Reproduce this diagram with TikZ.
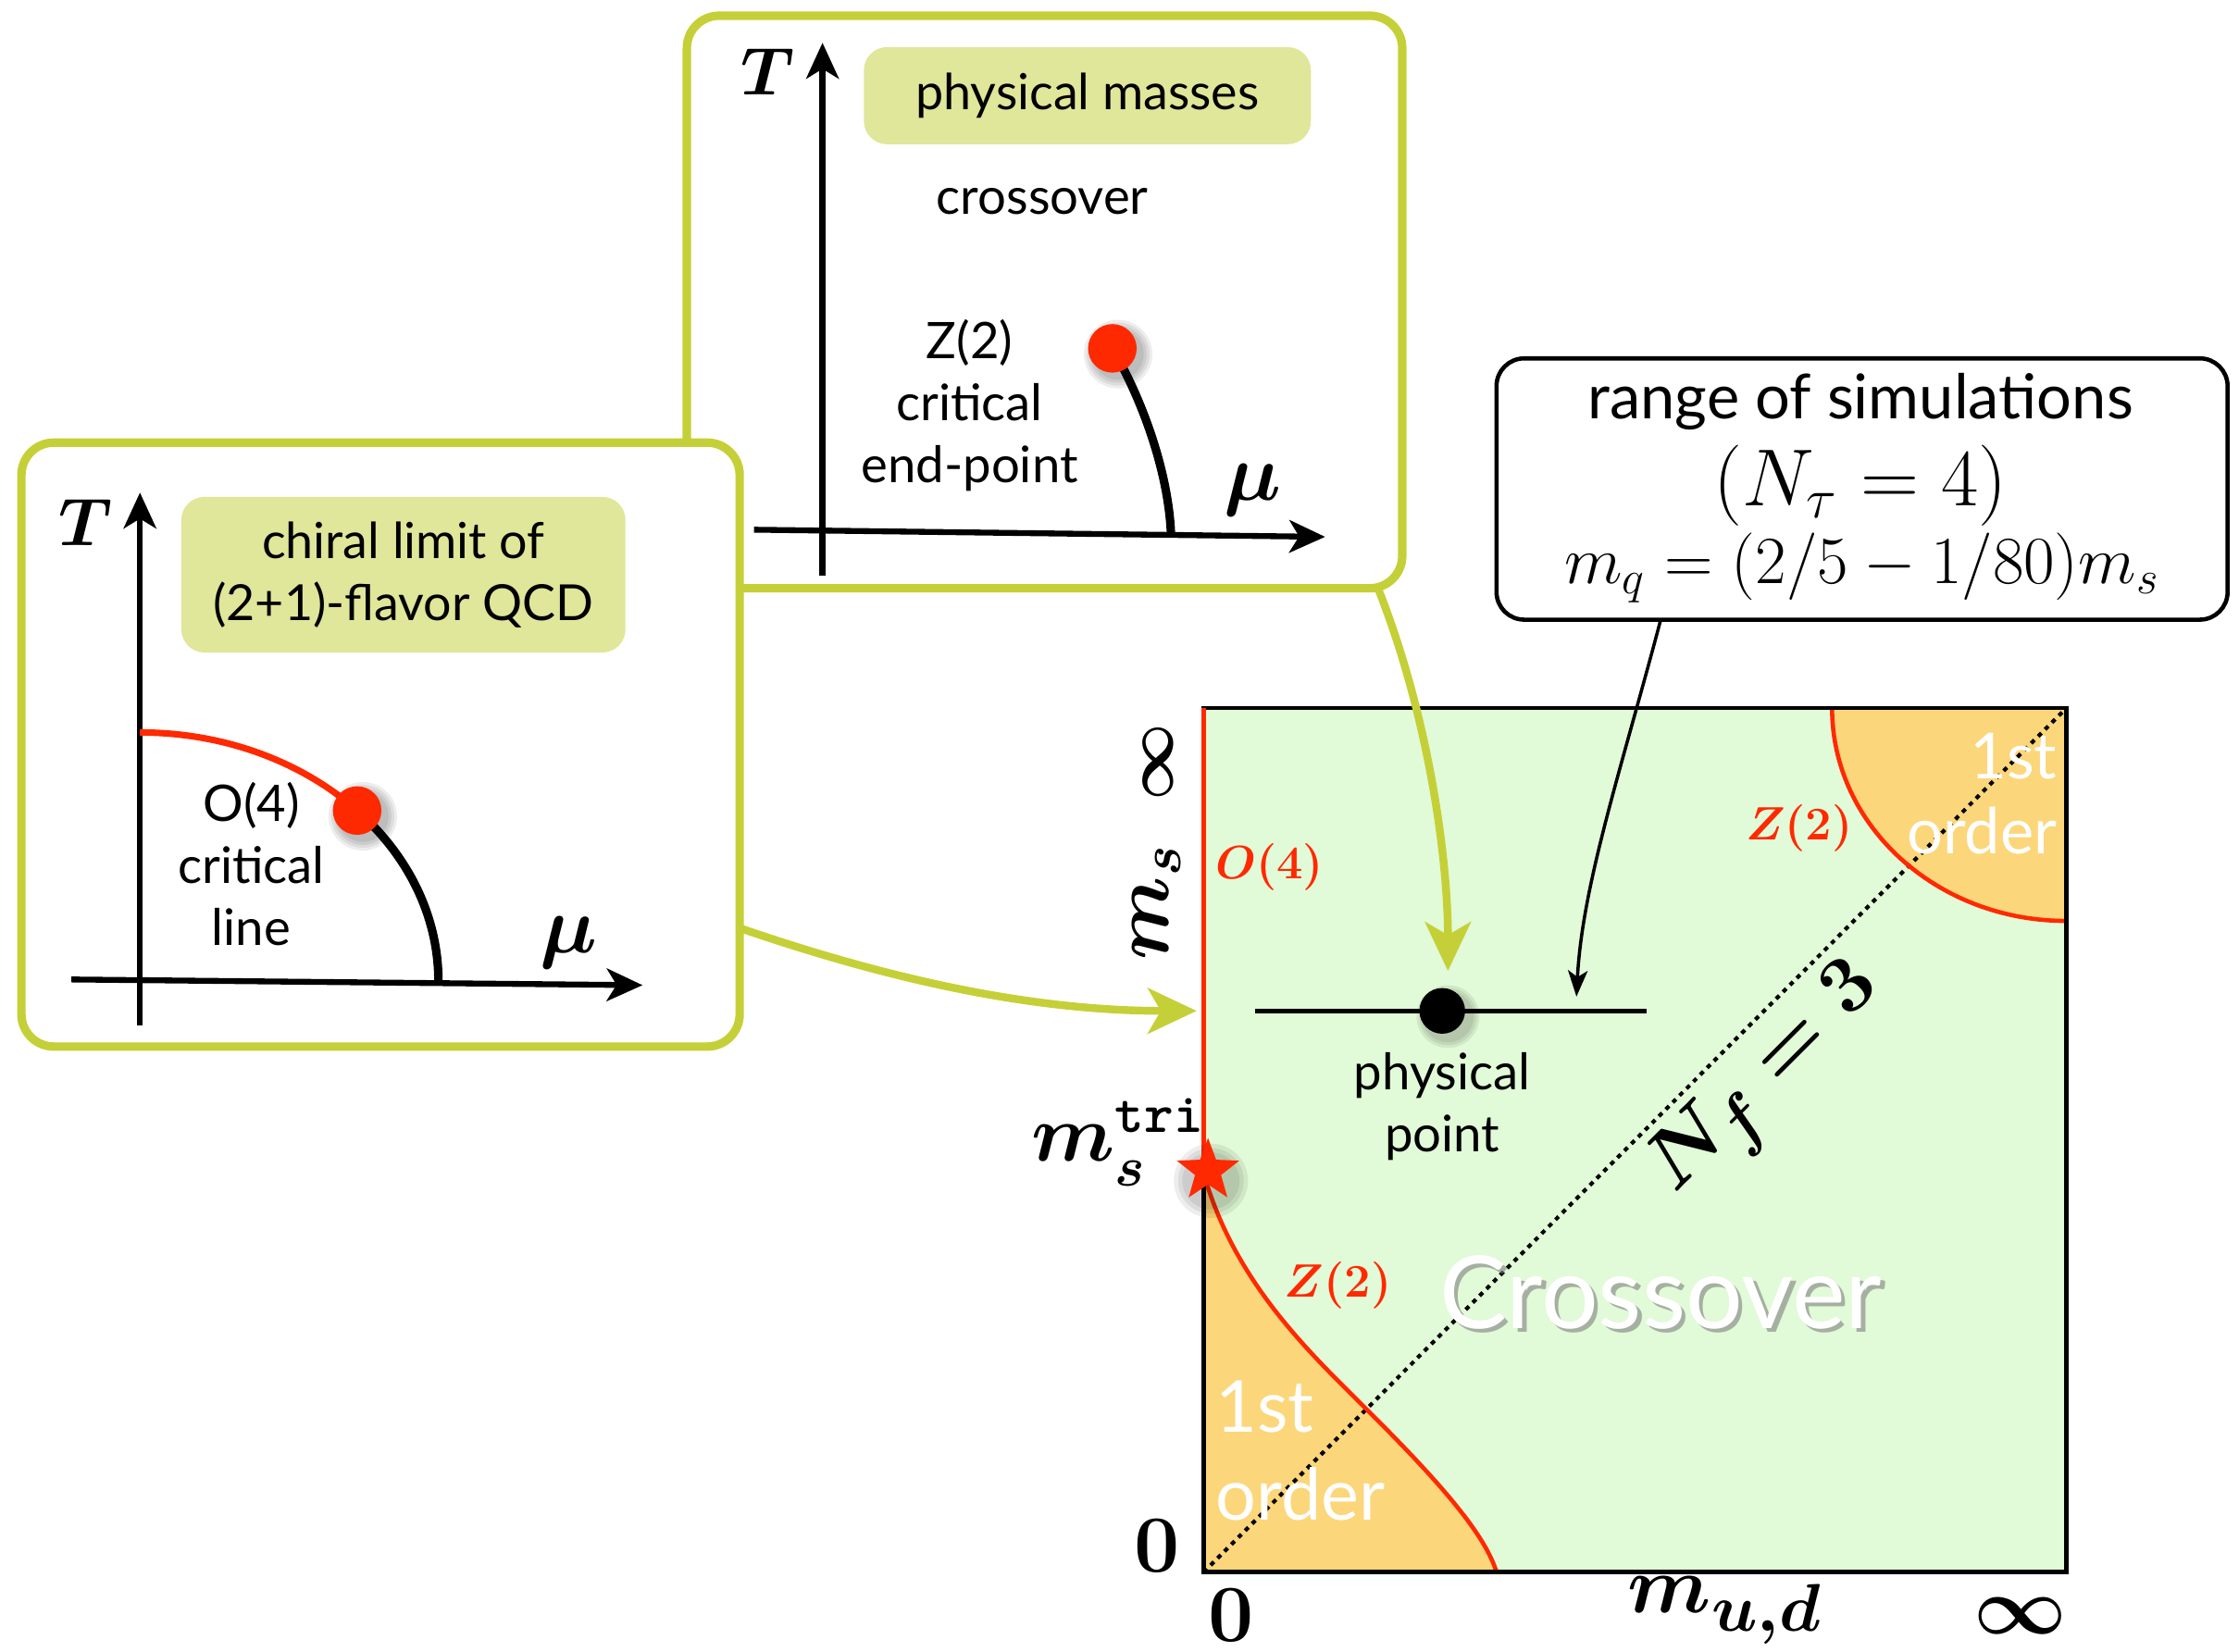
\documentclass[tikz,border=0pt]{standalone}
\usepackage{fontspec}
\setmainfont{Lato}
\usepackage{amsmath}
\usetikzlibrary{arrows.meta,shapes.geometric,calc}
\definecolor{frameolive}{RGB}{197,208,56}
\definecolor{labelolive}{RGB}{224,230,154}
\definecolor{plotgreen}{RGB}{225,250,215}
\definecolor{orangefill}{RGB}{252,214,122}
\definecolor{critred}{RGB}{255,41,0}
\def\pxu{0.015427cm}
\begin{document}
\begin{tikzpicture}[x=0.015427cm,y=-0.015427cm,
  frame/.style={draw=frameolive,line width=2.6pt,fill=white,rounded corners=0.35cm,inner sep=0pt},
  tag/.style={fill=labelolive,rounded corners=0.25cm,inner sep=0pt,align=center,font=\fontsize{15.3}{19}\selectfont},
  axis/.style={line width=1.8pt,-{Stealth[length=11pt,width=10pt,inset=3pt]}},
  txt/.style={font=\fontsize{15.5}{19}\selectfont,align=center,inner sep=0pt},
  mlbl/.style={inner sep=0pt,font=\fontsize{21}{24}\selectfont\boldmath},
  redlbl/.style={inner sep=0pt,text=critred,font=\fontsize{15}{18}\selectfont\boldmath},
  whitetxt/.style={inner sep=0pt,text=white,font=\fontsize{22}{27}\selectfont},
  critdot/.style={circle,fill=critred,minimum size=34*\pxu,inner sep=0pt},
  greenarrow/.style={draw=frameolive,line width=2.4pt,-{Stealth[length=15pt,width=14pt,inset=4pt]}},
  thinarrow/.style={line width=1pt,-{Stealth[length=8pt,width=6pt,inset=2pt]}},
  softshadow/.style={fill=black,opacity=0.07}
]
\useasboundingbox (0,0) rectangle (1568,1157);

% ---------------- top box: physical masses ----------------
\node[frame,minimum width=501*\pxu,minimum height=401*\pxu] (topbox) at (731.5,211.5) {};
\node[tag,minimum width=313*\pxu,minimum height=68*\pxu] (pmtag) at (761.5,67) {physical masses};
\coordinate (tTa) at (576,403);
\coordinate (tTb) at (576,30);
\draw[axis] (tTa) -- (tTb);
\coordinate (tMa) at (528,371);
\coordinate (tMb) at (928,376);
\draw[axis] (tMa) -- (tMb);
\node[mlbl] (tTlabel) at (538,50) {$T$};
\node[mlbl,font=\fontsize{24}{26}\selectfont\boldmath] (tmulabel) at (877,343) {$\mu$};
\node[txt] (crosstxt) at (730,141) {crossover};
\node[txt] (z2txt) at (679,284) {Z(2)\\critical\\end-point};
\coordinate (tdot) at (779,244);
\coordinate (tend) at (820,373);
\draw[line width=2.6pt] (tdot) .. controls (800,280) and (818,330) .. (tend);
\foreach \r in {24,22,20,18} {\fill[softshadow] ($(tdot)+(4,4)$) circle[radius=\r];}
\node[critdot] (tdotnode) at (tdot) {};

% ---------------- left box: chiral limit ----------------
\node[frame,minimum width=503*\pxu,minimum height=423*\pxu] (leftbox) at (266.5,521.5) {};
\node[tag,minimum width=311*\pxu,minimum height=109*\pxu] (chtag) at (282.5,402.5) {chiral limit of\\(2+1)-flavor QCD};
\coordinate (lTa) at (98,718);
\coordinate (lTb) at (98,345);
\draw[axis] (lTa) -- (lTb);
\coordinate (lMa) at (50,686);
\coordinate (lMb) at (450,690);
\draw[axis] (lMa) -- (lMb);
\node[mlbl] (lTlabel) at (60,366) {$T$};
\node[mlbl,font=\fontsize{24}{26}\selectfont\boldmath] (lmulabel) at (398,660) {$\mu$};
\draw[critred,line width=2pt] (98,513) arc[start angle=-90,end angle=0,x radius=209,y radius=174];
\coordinate (ldot) at (250.1,567.7);
\draw[line width=2.6pt] (ldot) arc[start angle=-43.3,end angle=0,x radius=209,y radius=174];
\foreach \r in {24,22,20,18} {\fill[softshadow] ($(ldot)+(4,4)$) circle[radius=\r];}
\node[critdot] (ldotnode) at (ldot) {};
\node[txt] (o4txt) at (176,605) {O(4)\\critical\\line};

% ---------------- range box ----------------
\node[draw,line width=1.3pt,rounded corners=0.3cm,fill=white,minimum width=512*\pxu,minimum height=183*\pxu] (rangebox) at (1304,342.5) {};
\node[inner sep=0pt,font=\fontsize{19}{22}\selectfont] (r1) at (1303,281) {range of simulations};
\node[inner sep=0pt,font=\fontsize{25}{28}\selectfont] (r2) at (1303,340) {$(N_\tau=4)$};
\node[inner sep=0pt,font=\fontsize{21}{24}\selectfont] (r3) at (1304,398) {$m_q=(2/5-1/80)m_s$};

% ---------------- plot ----------------
\coordinate (pLL) at (843,1101);
\coordinate (pUR) at (1447,496);
\coordinate (pUL) at (843,496);
\coordinate (pLR) at (1447,1101);
\coordinate (tri) at (843,822);
\fill[plotgreen] (pUL) rectangle (pLR);
\fill[orangefill] (tri) .. controls (865,900) and (920,950) .. (960,990) .. controls (1010,1040) and (1040,1075) .. (1048,1101) -- (pLL) -- cycle;
\fill[orangefill] (1283,496) arc[start angle=180,end angle=90,x radius=164,y radius=149] -- (1447,496) -- cycle;
\draw[line width=1.2pt,dash pattern=on 1.4pt off 1.6pt] (pLL) -- (pUR);
\draw[critred,line width=1.3pt] (tri) .. controls (865,900) and (920,950) .. (960,990) .. controls (1010,1040) and (1040,1075) .. (1048,1101);
\draw[critred,line width=1.3pt] (1283,496) arc[start angle=180,end angle=90,x radius=164,y radius=149];
\draw[line width=1.3pt] (pUL) rectangle (pLR);
\draw[critred,line width=1.6pt] (pUL) -- (tri);
\foreach \r in {26,23,20} {\fill[softshadow] ($(tri)+(5,5)$) circle[radius=\r];}
\node[star,star points=5,star point ratio=2.4,fill=critred,minimum size=46*\pxu,inner sep=0pt] (trstar) at (846,820) {};

% physical point
\coordinate (ppa) at (879,708);
\coordinate (ppb) at (1153,708);
\draw[line width=1.5pt] (ppa) -- (ppb);
\foreach \r in {22,20,18} {\fill[softshadow] ($(1010,708)+(4,4)$) circle[radius=\r];}
\node[circle,fill=black,minimum size=32*\pxu,inner sep=0pt] (ppdot) at (1010,708) {};
\node[txt] (pptxt) at (1010,775) {physical\\point};

% region labels
\node[inner sep=0pt,text=gray,opacity=0.6,font=\fontsize{31}{34}\selectfont] at (1166,908) {Crossover};
\node[inner sep=0pt,text=white,font=\fontsize{31}{34}\selectfont] (crossbig) at (1163,905) {Crossover};
\node[whitetxt,align=left,anchor=west,font=\fontsize{22}{27}\selectfont] (first1) at (851,1016) {1st\\order};
\node[whitetxt,align=right,anchor=east,font=\fontsize{19.5}{23}\selectfont] (first2) at (1441,556) {1st\\order};
\node[redlbl] (o4lbl) at (889,607) {$O(4)$};
\node[redlbl] (z2a) at (1260,580) {$Z(2)$};
\node[redlbl] (z2b) at (937,900) {$Z(2)$};
\node[inner sep=0pt,rotate=45,font=\fontsize{32}{34}\selectfont\boldmath] (nf3) at (1239,758) {$N_f=3$};

% axis labels
\node[inner sep=0pt,rotate=90,font=\fontsize{20}{22}\selectfont\boldmath] (infy) at (811,534) {$\infty$};
\node[inner sep=0pt,rotate=90,font=\fontsize{27}{30}\selectfont\boldmath] (msl) at (810,632) {$m_s$};
\node[inner sep=0pt,font=\fontsize{24.5}{28}\selectfont\boldmath] (mstri) at (783,800) {$m_s^{\texttt{\bfseries tri}}$};
\node[inner sep=0pt,font=\fontsize{23}{26}\selectfont\boldmath] (zeroy) at (810,1083) {$0$};
\node[inner sep=0pt,font=\fontsize{23}{26}\selectfont\boldmath] (zerox) at (862,1131) {$0$};
\node[inner sep=0pt,font=\fontsize{29}{32}\selectfont\boldmath] (mudl) at (1208,1128) {$m_{u,d}$};
\node[inner sep=0pt,font=\fontsize{27}{30}\selectfont\boldmath] (infx) at (1415,1132) {$\infty$};

% connectors
\coordinate (gas) at (965,412);
\coordinate (gae) at (1014,680);
\draw[greenarrow] (gas) .. controls (1000,500) and (1014,600) .. (gae);
\coordinate (gbs) at (518,650);
\coordinate (gbe) at (838,708);
\draw[greenarrow] (gbs) .. controls (620,685) and (720,708) .. (gbe);
\coordinate (bas) at (1163,434);
\coordinate (bae) at (1104,698);
\draw[thinarrow] (bas) .. controls (1135,540) and (1108,620) .. (bae);
\end{tikzpicture}
\end{document}
